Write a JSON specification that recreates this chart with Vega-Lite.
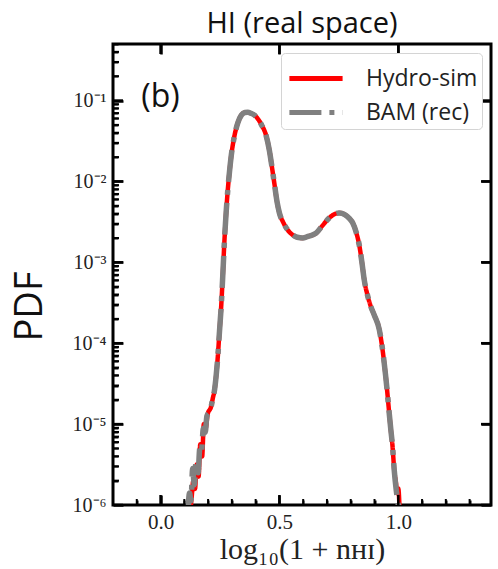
{
  "$schema": "https://vega.github.io/schema/vega-lite/v6.json",
  "width": 378,
  "height": 461,
  "autosize": {"type": "none"},
  "padding": {"left": 113, "top": 44, "right": 7, "bottom": 64},
  "background": "white",
  "title": {"text": "HI (real space)", "font": "Open Sans", "fontSize": 29, "fontWeight": "normal", "color": "#111", "offset": 4, "anchor": "middle"},
  "config": {
    "view": {"stroke": "black", "strokeWidth": 3},
    "axis": {"domainOpacity": 0, "gridOpacity": 0, "tickColor": "black", "tickWidth": 2.5},
    "legend": {"title": null, "orient": "top-right", "offset": 9, "fillColor": "white", "strokeColor": "#d4d4d4", "cornerRadius": 4, "padding": 4, "labelFont": "Open Sans", "labelFontSize": 23, "labelColor": "#222", "symbolType": "M-0.9,0H1.9", "symbolSize": 1444, "symbolStrokeWidth": 5, "rowPadding": 0, "labelOffset": 38}
  },
  "datasets": {
    "xmajor": [{"t": 0}, {"t": 0.5}, {"t": 1}],
    "xminor": [{"t": -0.1}, {"t": 0.1}, {"t": 0.2}, {"t": 0.3}, {"t": 0.4}, {"t": 0.6}, {"t": 0.7}, {"t": 0.8}, {"t": 0.9}, {"t": 1.1}, {"t": 1.2}, {"t": 1.3}],
    "ymajor": [{"t": 1e-6}, {"t": 1e-5}, {"t": 1e-4}, {"t": 1e-3}, {"t": 0.01}, {"t": 0.1}],
    "yminor": [{"t": 2e-6}, {"t": 3e-6}, {"t": 4e-6}, {"t": 5e-6}, {"t": 6e-6}, {"t": 7e-6}, {"t": 8e-6}, {"t": 9e-6}, {"t": 2e-5}, {"t": 3e-5}, {"t": 4e-5}, {"t": 5e-5}, {"t": 6e-5}, {"t": 7e-5}, {"t": 8e-5}, {"t": 9e-5}, {"t": 2e-4}, {"t": 3e-4}, {"t": 4e-4}, {"t": 5e-4}, {"t": 6e-4}, {"t": 7e-4}, {"t": 8e-4}, {"t": 9e-4}, {"t": 2e-3}, {"t": 3e-3}, {"t": 4e-3}, {"t": 5e-3}, {"t": 6e-3}, {"t": 7e-3}, {"t": 8e-3}, {"t": 9e-3}, {"t": 0.02}, {"t": 0.03}, {"t": 0.04}, {"t": 0.05}, {"t": 0.06}, {"t": 0.07}, {"t": 0.08}, {"t": 0.09}, {"t": 0.2}, {"t": 0.3}, {"t": 0.4}, {"t": 0.5}]
  },
  "data": {"values": [
    {"series": "Hydro-sim", "x": 0.125, "pdf": 7.9e-7},
    {"series": "Hydro-sim", "x": 0.131, "pdf": 1.26e-6},
    {"series": "Hydro-sim", "x": 0.138, "pdf": 2.0e-6},
    {"series": "Hydro-sim", "x": 0.145, "pdf": 1.58e-6},
    {"series": "Hydro-sim", "x": 0.152, "pdf": 3.16e-6},
    {"series": "Hydro-sim", "x": 0.160, "pdf": 2.24e-6},
    {"series": "Hydro-sim", "x": 0.167, "pdf": 5.62e-6},
    {"series": "Hydro-sim", "x": 0.175, "pdf": 3.98e-6},
    {"series": "Hydro-sim", "x": 0.182, "pdf": 1.0e-5},
    {"series": "Hydro-sim", "x": 0.190, "pdf": 8.91e-6},
    {"series": "Hydro-sim", "x": 0.198, "pdf": 1.32e-5},
    {"series": "Hydro-sim", "x": 0.213, "pdf": 1.66e-5},
    {"series": "Hydro-sim", "x": 0.220, "pdf": 2.1e-5},
    {"series": "Hydro-sim", "x": 0.227, "pdf": 2.63e-5},
    {"series": "Hydro-sim", "x": 0.234, "pdf": 3.98e-5},
    {"series": "Hydro-sim", "x": 0.241, "pdf": 6.92e-5},
    {"series": "Hydro-sim", "x": 0.248, "pdf": 1.41e-4},
    {"series": "Hydro-sim", "x": 0.255, "pdf": 2.82e-4},
    {"series": "Hydro-sim", "x": 0.262, "pdf": 7.08e-4},
    {"series": "Hydro-sim", "x": 0.269, "pdf": 1.91e-3},
    {"series": "Hydro-sim", "x": 0.276, "pdf": 4.17e-3},
    {"series": "Hydro-sim", "x": 0.283, "pdf": 7.94e-3},
    {"series": "Hydro-sim", "x": 0.290, "pdf": 1.32e-2},
    {"series": "Hydro-sim", "x": 0.297, "pdf": 2.04e-2},
    {"series": "Hydro-sim", "x": 0.310, "pdf": 3.55e-2},
    {"series": "Hydro-sim", "x": 0.325, "pdf": 5.3e-2},
    {"series": "Hydro-sim", "x": 0.340, "pdf": 6.6e-2},
    {"series": "Hydro-sim", "x": 0.355, "pdf": 7.1e-2},
    {"series": "Hydro-sim", "x": 0.367, "pdf": 7.15e-2},
    {"series": "Hydro-sim", "x": 0.380, "pdf": 6.95e-2},
    {"series": "Hydro-sim", "x": 0.395, "pdf": 6.6e-2},
    {"series": "Hydro-sim", "x": 0.410, "pdf": 5.9e-2},
    {"series": "Hydro-sim", "x": 0.425, "pdf": 5.0e-2},
    {"series": "Hydro-sim", "x": 0.444, "pdf": 3.7e-2},
    {"series": "Hydro-sim", "x": 0.458, "pdf": 2.4e-2},
    {"series": "Hydro-sim", "x": 0.470, "pdf": 1.41e-2},
    {"series": "Hydro-sim", "x": 0.479, "pdf": 9.33e-3},
    {"series": "Hydro-sim", "x": 0.490, "pdf": 5.62e-3},
    {"series": "Hydro-sim", "x": 0.500, "pdf": 4.07e-3},
    {"series": "Hydro-sim", "x": 0.515, "pdf": 3.16e-3},
    {"series": "Hydro-sim", "x": 0.535, "pdf": 2.51e-3},
    {"series": "Hydro-sim", "x": 0.555, "pdf": 2.19e-3},
    {"series": "Hydro-sim", "x": 0.575, "pdf": 2.04e-3},
    {"series": "Hydro-sim", "x": 0.598, "pdf": 2.0e-3},
    {"series": "Hydro-sim", "x": 0.620, "pdf": 2.09e-3},
    {"series": "Hydro-sim", "x": 0.654, "pdf": 2.29e-3},
    {"series": "Hydro-sim", "x": 0.680, "pdf": 2.82e-3},
    {"series": "Hydro-sim", "x": 0.710, "pdf": 3.55e-3},
    {"series": "Hydro-sim", "x": 0.735, "pdf": 3.98e-3},
    {"series": "Hydro-sim", "x": 0.752, "pdf": 4.07e-3},
    {"series": "Hydro-sim", "x": 0.775, "pdf": 3.89e-3},
    {"series": "Hydro-sim", "x": 0.795, "pdf": 3.47e-3},
    {"series": "Hydro-sim", "x": 0.808, "pdf": 3.09e-3},
    {"series": "Hydro-sim", "x": 0.822, "pdf": 2.4e-3},
    {"series": "Hydro-sim", "x": 0.836, "pdf": 1.62e-3},
    {"series": "Hydro-sim", "x": 0.847, "pdf": 1.0e-3},
    {"series": "Hydro-sim", "x": 0.857, "pdf": 6.03e-4},
    {"series": "Hydro-sim", "x": 0.870, "pdf": 3.98e-4},
    {"series": "Hydro-sim", "x": 0.885, "pdf": 2.82e-4},
    {"series": "Hydro-sim", "x": 0.900, "pdf": 2.19e-4},
    {"series": "Hydro-sim", "x": 0.920, "pdf": 1.48e-4},
    {"series": "Hydro-sim", "x": 0.931, "pdf": 9.55e-5},
    {"series": "Hydro-sim", "x": 0.941, "pdf": 5.62e-5},
    {"series": "Hydro-sim", "x": 0.952, "pdf": 2.82e-5},
    {"series": "Hydro-sim", "x": 0.962, "pdf": 1.35e-5},
    {"series": "Hydro-sim", "x": 0.969, "pdf": 8.32e-6},
    {"series": "Hydro-sim", "x": 0.976, "pdf": 5.25e-6},
    {"series": "Hydro-sim", "x": 0.983, "pdf": 2.69e-6},
    {"series": "Hydro-sim", "x": 0.990, "pdf": 1.9e-6},
    {"series": "Hydro-sim", "x": 0.995, "pdf": 1.4e-6},
    {"series": "Hydro-sim", "x": 1.000, "pdf": 1.6e-6},
    {"series": "Hydro-sim", "x": 1.006, "pdf": 8.0e-7},
    {"series": "BAM (rec)", "x": 0.115, "pdf": 7.9e-7},
    {"series": "BAM (rec)", "x": 0.122, "pdf": 1.41e-6},
    {"series": "BAM (rec)", "x": 0.128, "pdf": 1.12e-6},
    {"series": "BAM (rec)", "x": 0.135, "pdf": 2.82e-6},
    {"series": "BAM (rec)", "x": 0.142, "pdf": 1.78e-6},
    {"series": "BAM (rec)", "x": 0.150, "pdf": 3.55e-6},
    {"series": "BAM (rec)", "x": 0.158, "pdf": 2.51e-6},
    {"series": "BAM (rec)", "x": 0.165, "pdf": 5.01e-6},
    {"series": "BAM (rec)", "x": 0.172, "pdf": 4.47e-6},
    {"series": "BAM (rec)", "x": 0.180, "pdf": 8.91e-6},
    {"series": "BAM (rec)", "x": 0.188, "pdf": 7.94e-6},
    {"series": "BAM (rec)", "x": 0.195, "pdf": 1.26e-5},
    {"series": "BAM (rec)", "x": 0.205, "pdf": 1.41e-5},
    {"series": "BAM (rec)", "x": 0.213, "pdf": 1.66e-5},
    {"series": "BAM (rec)", "x": 0.220, "pdf": 2.1e-5},
    {"series": "BAM (rec)", "x": 0.227, "pdf": 2.63e-5},
    {"series": "BAM (rec)", "x": 0.234, "pdf": 3.98e-5},
    {"series": "BAM (rec)", "x": 0.241, "pdf": 6.92e-5},
    {"series": "BAM (rec)", "x": 0.248, "pdf": 1.41e-4},
    {"series": "BAM (rec)", "x": 0.255, "pdf": 2.82e-4},
    {"series": "BAM (rec)", "x": 0.262, "pdf": 7.08e-4},
    {"series": "BAM (rec)", "x": 0.269, "pdf": 1.91e-3},
    {"series": "BAM (rec)", "x": 0.276, "pdf": 4.17e-3},
    {"series": "BAM (rec)", "x": 0.283, "pdf": 7.94e-3},
    {"series": "BAM (rec)", "x": 0.290, "pdf": 1.32e-2},
    {"series": "BAM (rec)", "x": 0.297, "pdf": 2.04e-2},
    {"series": "BAM (rec)", "x": 0.310, "pdf": 3.55e-2},
    {"series": "BAM (rec)", "x": 0.325, "pdf": 5.3e-2},
    {"series": "BAM (rec)", "x": 0.340, "pdf": 6.6e-2},
    {"series": "BAM (rec)", "x": 0.355, "pdf": 7.1e-2},
    {"series": "BAM (rec)", "x": 0.367, "pdf": 7.15e-2},
    {"series": "BAM (rec)", "x": 0.380, "pdf": 6.95e-2},
    {"series": "BAM (rec)", "x": 0.395, "pdf": 6.6e-2},
    {"series": "BAM (rec)", "x": 0.410, "pdf": 5.9e-2},
    {"series": "BAM (rec)", "x": 0.425, "pdf": 5.0e-2},
    {"series": "BAM (rec)", "x": 0.444, "pdf": 3.7e-2},
    {"series": "BAM (rec)", "x": 0.458, "pdf": 2.4e-2},
    {"series": "BAM (rec)", "x": 0.470, "pdf": 1.41e-2},
    {"series": "BAM (rec)", "x": 0.479, "pdf": 9.33e-3},
    {"series": "BAM (rec)", "x": 0.490, "pdf": 5.62e-3},
    {"series": "BAM (rec)", "x": 0.500, "pdf": 4.07e-3},
    {"series": "BAM (rec)", "x": 0.515, "pdf": 3.16e-3},
    {"series": "BAM (rec)", "x": 0.535, "pdf": 2.51e-3},
    {"series": "BAM (rec)", "x": 0.555, "pdf": 2.19e-3},
    {"series": "BAM (rec)", "x": 0.575, "pdf": 2.04e-3},
    {"series": "BAM (rec)", "x": 0.598, "pdf": 2.0e-3},
    {"series": "BAM (rec)", "x": 0.620, "pdf": 2.09e-3},
    {"series": "BAM (rec)", "x": 0.654, "pdf": 2.29e-3},
    {"series": "BAM (rec)", "x": 0.680, "pdf": 2.82e-3},
    {"series": "BAM (rec)", "x": 0.710, "pdf": 3.55e-3},
    {"series": "BAM (rec)", "x": 0.735, "pdf": 3.98e-3},
    {"series": "BAM (rec)", "x": 0.752, "pdf": 4.07e-3},
    {"series": "BAM (rec)", "x": 0.775, "pdf": 3.89e-3},
    {"series": "BAM (rec)", "x": 0.795, "pdf": 3.47e-3},
    {"series": "BAM (rec)", "x": 0.808, "pdf": 3.09e-3},
    {"series": "BAM (rec)", "x": 0.822, "pdf": 2.4e-3},
    {"series": "BAM (rec)", "x": 0.836, "pdf": 1.62e-3},
    {"series": "BAM (rec)", "x": 0.847, "pdf": 1.0e-3},
    {"series": "BAM (rec)", "x": 0.857, "pdf": 6.03e-4},
    {"series": "BAM (rec)", "x": 0.870, "pdf": 3.98e-4},
    {"series": "BAM (rec)", "x": 0.885, "pdf": 2.82e-4},
    {"series": "BAM (rec)", "x": 0.900, "pdf": 2.19e-4},
    {"series": "BAM (rec)", "x": 0.920, "pdf": 1.48e-4},
    {"series": "BAM (rec)", "x": 0.931, "pdf": 9.55e-5},
    {"series": "BAM (rec)", "x": 0.941, "pdf": 5.62e-5},
    {"series": "BAM (rec)", "x": 0.952, "pdf": 2.82e-5},
    {"series": "BAM (rec)", "x": 0.962, "pdf": 1.35e-5},
    {"series": "BAM (rec)", "x": 0.969, "pdf": 8.32e-6},
    {"series": "BAM (rec)", "x": 0.976, "pdf": 5.25e-6},
    {"series": "BAM (rec)", "x": 0.983, "pdf": 2.69e-6},
    {"series": "BAM (rec)", "x": 0.990, "pdf": 1.66e-6},
    {"series": "BAM (rec)", "x": 0.997, "pdf": 1.15e-6},
    {"series": "BAM (rec)", "x": 1.003, "pdf": 8.9e-7}
  ]},
  "layer": [
    {
      "transform": [{"filter": "datum.series == 'Hydro-sim'"}],
      "mark": {"type": "line", "strokeWidth": 4.5, "interpolate": "monotone", "clip": true},
      "encoding": {
        "x": {"field": "x", "type": "quantitative",
          "scale": {"domain": [-0.2, 1.39], "nice": false, "zero": false},
          "axis": {"orient": "bottom", "offset": -10, "tickSize": 10,
            "values": [0, 0.5, 1], "format": ".1f",
            "labelFont": "Liberation Serif", "labelFontSize": 21, "labelColor": "#222", "labelPadding": 6,
            "title": "log₁₀(1 + nʜɪ)", "titleFont": "Liberation Serif", "titleFontSize": 30, "titleFontWeight": "normal", "titleColor": "#222",
            "titleY": 63, "titleBaseline": "alphabetic"}},
        "y": {"field": "pdf", "type": "quantitative",
          "scale": {"type": "log", "domain": [1e-6, 0.5], "nice": false},
          "axis": {"orient": "left", "offset": -10, "tickSize": 10,
            "values": [1e-6, 1e-5, 1e-4, 1e-3, 0.01, 0.1],
            "labelExpr": "datum.value < 5e-6 ? '10⁻⁶' : datum.value < 5e-5 ? '10⁻⁵' : datum.value < 5e-4 ? '10⁻⁴' : datum.value < 5e-3 ? '10⁻³' : datum.value < 5e-2 ? '10⁻²' : '10⁻¹'",
            "labelFont": "Liberation Serif", "labelFontSize": 20, "labelColor": "#222", "labelPadding": 7,
            "title": "PDF", "titleFont": "Open Sans", "titleFontSize": 38, "titleFontWeight": "normal", "titleColor": "#111",
            "titleX": -93, "titleY": 262, "titleAngle": 270, "titleAlign": "center", "titleBaseline": "middle"}},
        "color": {"field": "series", "type": "nominal",
          "scale": {"domain": ["Hydro-sim", "BAM (rec)"], "range": ["#ff0000", "#808080"]},
          "legend": {"labelExpr": "datum.label + '\u00a0\u00a0\u00a0'"}},
        "strokeDash": {"field": "series", "type": "nominal",
          "scale": {"domain": ["Hydro-sim", "BAM (rec)"], "range": [[1, 0], [32, 8, 5, 8]]},
          "legend": {"labelExpr": "datum.label + '\u00a0\u00a0\u00a0'"}}
      }
    },
    {
      "transform": [{"filter": "datum.series == 'BAM (rec)'"}],
      "mark": {"type": "line", "strokeWidth": 5.5, "interpolate": "monotone", "clip": true},
      "encoding": {
        "x": {"field": "x", "type": "quantitative",
          "axis": {"orient": "top", "offset": -10, "tickSize": 10, "values": [0, 0.5, 1], "labels": false, "title": null}},
        "y": {"field": "pdf", "type": "quantitative",
          "axis": {"orient": "right", "offset": -10, "tickSize": 10, "values": [1e-6, 1e-5, 1e-4, 1e-3, 0.01, 0.1], "labels": false, "title": null}},
        "color": {"field": "series", "type": "nominal"},
        "strokeDash": {"field": "series", "type": "nominal"}
      }
    },
    {
      "data": {"values": [{"label": "(b)"}]},
      "mark": {"type": "text", "font": "Open Sans", "fontSize": 32, "color": "#111", "align": "center", "baseline": "middle"},
      "encoding": {
        "x": {"datum": 0, "type": "quantitative",
          "axis": {"orient": "bottom", "offset": -5, "tickSize": 5, "tickWidth": 2, "labels": false, "title": null,
            "values": [-0.1, 0.1, 0.2, 0.3, 0.4, 0.6, 0.7, 0.8, 0.9, 1.1, 1.2, 1.3]}},
        "y": {"datum": 0.112, "type": "quantitative",
          "axis": {"orient": "left", "offset": -5, "tickSize": 5, "tickWidth": 2, "labels": false, "title": null,
            "values": [2e-6, 3e-6, 4e-6, 5e-6, 6e-6, 7e-6, 8e-6, 9e-6, 2e-5, 3e-5, 4e-5, 5e-5, 6e-5, 7e-5, 8e-5, 9e-5, 2e-4, 3e-4, 4e-4, 5e-4, 6e-4, 7e-4, 8e-4, 9e-4, 2e-3, 3e-3, 4e-3, 5e-3, 6e-3, 7e-3, 8e-3, 9e-3, 0.02, 0.03, 0.04, 0.05, 0.06, 0.07, 0.08, 0.09, 0.2, 0.3, 0.4, 0.5]}},
        "text": {"field": "label"}
      }
    },
    {
      "data": {"name": "xmajor"},
      "mark": {"type": "tick", "orient": "vertical", "size": 20, "thickness": 2.5, "color": "black", "opacity": 1, "clip": true},
      "encoding": {"x": {"field": "t", "type": "quantitative", "axis": null}, "y": {"datum": 1e-6, "type": "quantitative", "axis": null}}
    },
    {
      "data": {"name": "ymajor"},
      "mark": {"type": "tick", "orient": "horizontal", "size": 20, "thickness": 2.5, "color": "black", "opacity": 1, "clip": true},
      "encoding": {"y": {"field": "t", "type": "quantitative", "axis": null}, "x": {"datum": -0.2, "type": "quantitative", "axis": null}}
    },
    {
      "data": {"name": "xminor"},
      "mark": {"type": "tick", "orient": "vertical", "size": 12, "thickness": 2, "color": "black", "opacity": 1, "clip": true},
      "encoding": {"x": {"field": "t", "type": "quantitative", "axis": null}, "y": {"datum": 1e-6, "type": "quantitative", "axis": null}}
    },
    {
      "data": {"name": "yminor"},
      "mark": {"type": "tick", "orient": "horizontal", "size": 12, "thickness": 2, "color": "black", "opacity": 1, "clip": true},
      "encoding": {"y": {"field": "t", "type": "quantitative", "axis": null}, "x": {"datum": -0.2, "type": "quantitative", "axis": null}}
    },
    {
      "data": {"name": "xmajor"},
      "mark": {"type": "tick", "orient": "vertical", "size": 20, "thickness": 2.5, "color": "black", "opacity": 1, "clip": true},
      "encoding": {"x": {"field": "t", "type": "quantitative", "axis": null}, "y": {"datum": 0.5, "type": "quantitative", "axis": null}}
    },
    {
      "data": {"name": "ymajor"},
      "mark": {"type": "tick", "orient": "horizontal", "size": 20, "thickness": 2.5, "color": "black", "opacity": 1, "clip": true},
      "encoding": {"y": {"field": "t", "type": "quantitative", "axis": null}, "x": {"datum": 1.39, "type": "quantitative", "axis": null}}
    }
  ],
  "resolve": {"axis": {"x": "independent", "y": "independent"}}
}
